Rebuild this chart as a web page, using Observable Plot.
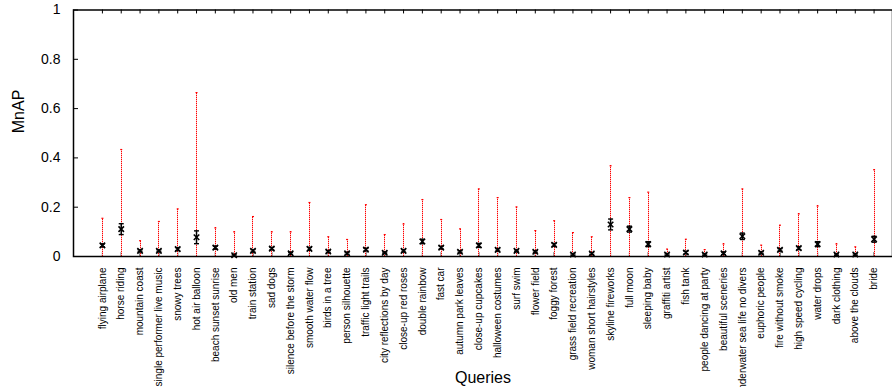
<!DOCTYPE html>
<html>
<head>
<meta charset="utf-8">
<script src="https://cdn.jsdelivr.net/npm/d3@7"></script>
<script src="https://cdn.jsdelivr.net/npm/@observablehq/plot@0.6"></script>
<style>
  html, body { margin: 0; padding: 0; background: #fff; }
  svg { font-family: "Liberation Sans", Arial, sans-serif; }
</style>
</head>
<body>
<div id="chart"></div>
<script>
const queries = [
  "flying airplane", "horse riding", "mountain coast", "single performer live music",
  "snowy trees", "hot air balloon", "beach sunset sunrise", "old men", "train station",
  "sad dogs", "silence before the storm", "smooth water flow", "birds in a tree",
  "person silhouette", "traffic light trails", "city reflections by day",
  "close-up red roses", "double rainbow", "fast car", "autumn park leaves",
  "close-up cupcakes", "halloween costumes", "surf swim", "flower field", "foggy forest",
  "grass field recreation", "woman short hairstyles", "skyline fireworks", "full moon",
  "sleeping baby", "graffiti artist", "fish tank", "people dancing at party",
  "beautiful sceneries", "underwater sea life no divers", "euphoric people",
  "fire without smoke", "high speed cycling", "water drops", "dark clothing",
  "above the clouds", "bride"
];
const meanAP = [
  0.045, 0.111, 0.023, 0.023, 0.030, 0.078, 0.036, 0.005, 0.023, 0.032, 0.013,
  0.031, 0.020, 0.013, 0.028, 0.015, 0.023, 0.061, 0.036, 0.019, 0.045,
  0.027, 0.023, 0.019, 0.047, 0.008, 0.012, 0.130, 0.111, 0.050, 0.008, 0.016,
  0.008, 0.013, 0.082, 0.015, 0.027, 0.034, 0.050, 0.008, 0.008, 0.070
];
const errAP = [
  0.006, 0.022, 0.004, 0.004, 0.006, 0.026, 0.006, 0.003, 0.005, 0.005, 0.004,
  0.006, 0.004, 0.004, 0.005, 0.003, 0.005, 0.009, 0.005, 0.004, 0.008,
  0.005, 0.004, 0.004, 0.006, 0.003, 0.004, 0.022, 0.012, 0.010, 0.003, 0.005,
  0.003, 0.005, 0.013, 0.004, 0.005, 0.006, 0.010, 0.003, 0.003, 0.012
];
const maxAP = [
  0.155, 0.434, 0.064, 0.142, 0.193, 0.665, 0.116, 0.100, 0.162, 0.100, 0.100,
  0.219, 0.080, 0.069, 0.210, 0.089, 0.132, 0.231, 0.150, 0.112, 0.274,
  0.239, 0.201, 0.105, 0.145, 0.097, 0.080, 0.368, 0.239, 0.261, 0.030, 0.070,
  0.028, 0.051, 0.274, 0.046, 0.127, 0.173, 0.205, 0.051, 0.039, 0.352
];
const yTicks = [0, 0.2, 0.4, 0.6, 0.8, 1];

const data = queries.map((q, i) => ({
  q, mean: meanAP[i], lo: meanAP[i] - errAP[i], hi: meanAP[i] + errAP[i], max: maxAP[i]
}));

const W = 892, H = 387, mL = 73, mR = 0, mT = 9.5, mB = 131;

// horizontal-line symbol for error-bar caps
const hline = {
  draw(context, size) {
    const r = Math.sqrt(size / Math.PI);
    context.moveTo(-r, 0);
    context.lineTo(r, 0);
  }
};

const chart = Plot.plot({
  width: W,
  height: H,
  marginLeft: mL,
  marginRight: mR,
  marginTop: mT,
  marginBottom: mB,
  style: { fontFamily: "'Liberation Sans', Arial, sans-serif", background: "#fff", overflow: "visible" },
  x: { type: "point", domain: queries, range: [92.5, 883] },
  y: { domain: [0, 1] },
  marks: [
    Plot.axisY({ ticks: yTicks, tickSize: 0, tickPadding: 13, fontSize: 14, tickFormat: d => String(d), label: null, fill: "#000" }),
    Plot.axisX({ tickRotate: -90, tickSize: 0, tickPadding: 11, fontSize: 10, label: null, fill: "#000" }),
    Plot.tickY(yTicks, { y: d => d, insetRight: W - mL - mR - 5, stroke: "#000" }),
    Plot.ruleX(queries, { x: d => d, y1: 1, y2: 0.984, stroke: "#000" }),
    Plot.ruleX(queries, { x: d => d, y1: 0, y2: 0.016, stroke: "#000" }),
    Plot.ruleX(data, { x: "q", y1: 0, y2: "max", stroke: "#ffb4b4", strokeWidth: 1, shapeRendering: "crispEdges" }),
    Plot.ruleX(data, { x: "q", y1: 0, y2: "max", stroke: "#ff0000", strokeWidth: 1, strokeDasharray: "1,1", shapeRendering: "crispEdges" }),
    Plot.dot(data, { x: "q", y: "max", symbol: hline, r: 1, stroke: "#ff0000", strokeWidth: 1.2 }),
    Plot.ruleX(data, { x: "q", y1: "lo", y2: "hi", stroke: "#000", strokeWidth: 1.5 }),
    Plot.dot(data, { x: "q", y: "lo", symbol: hline, r: 2.5, stroke: "#000", strokeWidth: 1.4 }),
    Plot.dot(data, { x: "q", y: "hi", symbol: hline, r: 2.5, stroke: "#000", strokeWidth: 1.4 }),
    Plot.dot(data, { x: "q", y: "mean", symbol: "times", r: 2.6, stroke: "#000", strokeWidth: 1.6 }),
    Plot.frame({ stroke: "#000", strokeWidth: 1.5 }),
    Plot.text(["MnAP"], { frameAnchor: "left", dx: -55, rotate: -90, fontSize: 16, fill: "#000" }),
    Plot.text(["Queries"], { frameAnchor: "bottom", lineAnchor: "middle", dy: 121, fontSize: 16, fill: "#000" })
  ]
});
document.getElementById("chart").appendChild(chart);
</script>
</body>
</html>
